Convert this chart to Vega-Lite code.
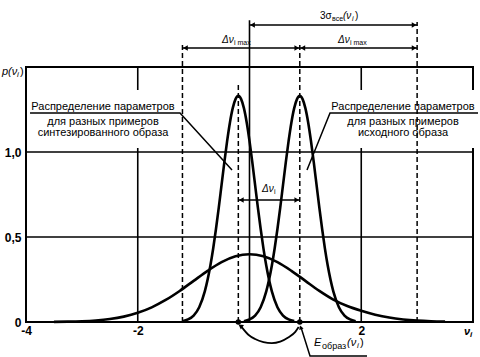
{
  "$schema": "https://vega.github.io/schema/vega-lite/v6.json",
  "width": 447,
  "height": 255,
  "autosize": {"type": "none"},
  "padding": {"left": 26, "top": 67, "right": 7, "bottom": 35},
  "background": "white",
  "config": {
    "view": {"stroke": "black", "strokeWidth": 2},
    "font": "Liberation Sans",
    "text": {"font": "Liberation Sans", "color": "black", "baseline": "middle", "align": "left"}
  },
  "encoding": {
    "x": {"field": "x", "type": "quantitative", "scale": {"domain": [-4, 4], "nice": false, "zero": false},
      "axis": {"values": [-4, -2, 2], "labelExpr": "datum.value < 0 ? '-' + abs(datum.value) : '' + datum.value", "ticks": false, "domain": false, "grid": false, "title": null, "labelFontSize": 12, "labelColor": "black", "labelPadding": 3, "labelFlush": false, "labelOverlap": false, "labelFont": "Liberation Sans", "labelFontWeight": "bold"}},
    "y": {"field": "y", "type": "quantitative", "scale": {"domain": [0, 1.5], "nice": false, "zero": false},
      "axis": {"values": [0, 0.5, 1], "labelExpr": "datum.value == 0 ? '0' : replace(format(datum.value, '.1f'), '.', ',')", "ticks": false, "domain": false, "grid": false, "title": null, "labelFontSize": 12, "labelColor": "black", "labelPadding": 5, "labelFlush": false, "labelOverlap": false, "labelFont": "Liberation Sans", "labelFontWeight": "bold"}}
  },
  "layer": [
    {
      "data": {"values": [{"x": -4, "x2": 4, "y": 0.5}, {"x": -4, "x2": 4, "y": 1.0}]},
      "mark": {"type": "rule", "color": "black", "strokeWidth": 1.6},
      "encoding": {"x2": {"field": "x2"}}
    },
    {
      "data": {"values": [{"x": -2, "y": 0, "y2": 1.5}, {"x": 2, "y": 0, "y2": 1.5}]},
      "mark": {"type": "rule", "color": "black", "strokeWidth": 1.6},
      "encoding": {"y2": {"field": "y2"}}
    },
    {
      "data": {"values": [{"x": -3.964, "x2": -1.28, "y": 1.365, "y2": 1.024}, {"x": 1.369, "x2": 4.2, "y": 1.365, "y2": 1.024}]},
      "mark": {"type": "rect", "color": "white"},
      "encoding": {"x2": {"field": "x2"}, "y2": {"field": "y2"}}
    },
    {
      "data": {"values": [{"x": 0, "y": 0, "y2": 1.775}]},
      "mark": {"type": "rule", "color": "black", "strokeWidth": 1.6},
      "encoding": {"y2": {"field": "y2"}}
    },
    {
      "data": {"values": [{"x": -1.2, "y": 0, "y2": 1.641}, {"x": 0.9, "y": 0, "y2": 1.641}, {"x": 3, "y": 0, "y2": 1.765}, {"x": -0.2, "y": 0, "y2": 1.394}]},
      "mark": {"type": "rule", "color": "black", "strokeWidth": 1.5, "strokeDash": [5, 3]},
      "encoding": {"y2": {"field": "y2"}}
    },
    {
      "data": {"values": [{"x": 0, "x2": 3, "y": 1.747}, {"x": -1.2, "x2": 0.9, "y": 1.612}, {"x": 0.9, "x2": 3, "y": 1.612}, {"x": -0.2, "x2": 0.9, "y": 0.718}]},
      "mark": {"type": "rule", "color": "black", "strokeWidth": 1.5},
      "encoding": {"x2": {"field": "x2"}}
    },
    {
      "data": {"values": [{"x": 0, "y": 1.747}, {"x": -1.2, "y": 1.612}, {"x": 0.9, "y": 1.612}, {"x": -0.2, "y": 0.718}]},
      "mark": {"type": "point", "shape": "triangle-left", "filled": true, "color": "black", "size": 30, "opacity": 1, "xOffset": 3}
    },
    {
      "data": {"values": [{"x": 3, "y": 1.747}, {"x": 0.9, "y": 1.612}, {"x": 3, "y": 1.612}, {"x": 0.9, "y": 0.718}]},
      "mark": {"type": "point", "shape": "triangle-right", "filled": true, "color": "black", "size": 30, "opacity": 1, "xOffset": -3}
    },
    {
      "data": {"values": [
        {"s": "wide", "x": -3.5, "y": 0.0009}, {"s": "wide", "x": -3.25, "y": 0.002}, {"s": "wide", "x": -3.0, "y": 0.0044}, {"s": "wide", "x": -2.75, "y": 0.0091}, {"s": "wide", "x": -2.5, "y": 0.0175}, {"s": "wide", "x": -2.25, "y": 0.0317}, {"s": "wide", "x": -2.0, "y": 0.054}, {"s": "wide", "x": -1.75, "y": 0.0863}, {"s": "wide", "x": -1.5, "y": 0.1295}, {"s": "wide", "x": -1.25, "y": 0.1826}, {"s": "wide", "x": -1.0, "y": 0.242}, {"s": "wide", "x": -0.75, "y": 0.3011}, {"s": "wide", "x": -0.5, "y": 0.3521}, {"s": "wide", "x": -0.25, "y": 0.3867}, {"s": "wide", "x": 0, "y": 0.3989}, {"s": "wide", "x": 0.25, "y": 0.3867}, {"s": "wide", "x": 0.5, "y": 0.3521}, {"s": "wide", "x": 0.75, "y": 0.3011}, {"s": "wide", "x": 1.0, "y": 0.242}, {"s": "wide", "x": 1.25, "y": 0.183}, {"s": "wide", "x": 1.5, "y": 0.132}, {"s": "wide", "x": 1.75, "y": 0.094}, {"s": "wide", "x": 2.0, "y": 0.066}, {"s": "wide", "x": 2.25, "y": 0.043}, {"s": "wide", "x": 2.5, "y": 0.026}, {"s": "wide", "x": 2.75, "y": 0.015}, {"s": "wide", "x": 3.0, "y": 0.008}, {"s": "wide", "x": 3.25, "y": 0.004}, {"s": "wide", "x": 3.5, "y": 0.002},
        {"s": "synth", "x": -1.2, "y": 0.005}, {"s": "synth", "x": -1.1, "y": 0.015}, {"s": "synth", "x": -1.0, "y": 0.038}, {"s": "synth", "x": -0.9, "y": 0.087}, {"s": "synth", "x": -0.8, "y": 0.18}, {"s": "synth", "x": -0.7, "y": 0.332}, {"s": "synth", "x": -0.65, "y": 0.432}, {"s": "synth", "x": -0.6, "y": 0.547}, {"s": "synth", "x": -0.55, "y": 0.673}, {"s": "synth", "x": -0.5, "y": 0.807}, {"s": "synth", "x": -0.45, "y": 0.94}, {"s": "synth", "x": -0.4, "y": 1.065}, {"s": "synth", "x": -0.35, "y": 1.174}, {"s": "synth", "x": -0.3, "y": 1.258}, {"s": "synth", "x": -0.25, "y": 1.311}, {"s": "synth", "x": -0.2, "y": 1.33}, {"s": "synth", "x": -0.15, "y": 1.311}, {"s": "synth", "x": -0.1, "y": 1.258}, {"s": "synth", "x": -0.05, "y": 1.174}, {"s": "synth", "x": 0, "y": 1.065}, {"s": "synth", "x": 0.05, "y": 0.94}, {"s": "synth", "x": 0.1, "y": 0.807}, {"s": "synth", "x": 0.15, "y": 0.673}, {"s": "synth", "x": 0.2, "y": 0.547}, {"s": "synth", "x": 0.25, "y": 0.432}, {"s": "synth", "x": 0.3, "y": 0.332}, {"s": "synth", "x": 0.4, "y": 0.18}, {"s": "synth", "x": 0.5, "y": 0.087}, {"s": "synth", "x": 0.6, "y": 0.038}, {"s": "synth", "x": 0.7, "y": 0.015}, {"s": "synth", "x": 0.8, "y": 0.005},
        {"s": "orig", "x": -0.1, "y": 0.005}, {"s": "orig", "x": 0, "y": 0.015}, {"s": "orig", "x": 0.1, "y": 0.038}, {"s": "orig", "x": 0.2, "y": 0.087}, {"s": "orig", "x": 0.3, "y": 0.18}, {"s": "orig", "x": 0.4, "y": 0.332}, {"s": "orig", "x": 0.45, "y": 0.432}, {"s": "orig", "x": 0.5, "y": 0.547}, {"s": "orig", "x": 0.55, "y": 0.673}, {"s": "orig", "x": 0.6, "y": 0.807}, {"s": "orig", "x": 0.65, "y": 0.94}, {"s": "orig", "x": 0.7, "y": 1.065}, {"s": "orig", "x": 0.75, "y": 1.174}, {"s": "orig", "x": 0.8, "y": 1.258}, {"s": "orig", "x": 0.85, "y": 1.311}, {"s": "orig", "x": 0.9, "y": 1.33}, {"s": "orig", "x": 0.95, "y": 1.311}, {"s": "orig", "x": 1.0, "y": 1.258}, {"s": "orig", "x": 1.05, "y": 1.174}, {"s": "orig", "x": 1.1, "y": 1.065}, {"s": "orig", "x": 1.15, "y": 0.94}, {"s": "orig", "x": 1.2, "y": 0.807}, {"s": "orig", "x": 1.25, "y": 0.673}, {"s": "orig", "x": 1.3, "y": 0.547}, {"s": "orig", "x": 1.35, "y": 0.432}, {"s": "orig", "x": 1.4, "y": 0.332}, {"s": "orig", "x": 1.5, "y": 0.18}, {"s": "orig", "x": 1.6, "y": 0.087}, {"s": "orig", "x": 1.7, "y": 0.038}, {"s": "orig", "x": 1.8, "y": 0.015}, {"s": "orig", "x": 1.9, "y": 0.005}
      ]},
      "mark": {"type": "line", "color": "black", "strokeWidth": 2.6, "interpolate": "monotone"},
      "encoding": {"detail": {"field": "s"}}
    },
    {
      "data": {"values": [
        {"s": "L", "x": -3.928, "y": 1.229}, {"s": "L", "x": -1.244, "y": 1.229}, {"s": "L", "x": -0.313, "y": 0.894},
        {"s": "R", "x": 1.029, "y": 0.894}, {"s": "R", "x": 1.441, "y": 1.229}, {"s": "R", "x": 4.09, "y": 1.229},
        {"s": "E", "x": 0.92, "y": -0.03}, {"s": "E", "x": 1.083, "y": -0.2}, {"s": "E", "x": 2.103, "y": -0.2}
      ]},
      "mark": {"type": "line", "color": "black", "strokeWidth": 1.5},
      "encoding": {"detail": {"field": "s"}}
    },
    {
      "data": {"values": [
        {"x": -0.14, "y": -0.03}, {"x": -0.02, "y": -0.075}, {"x": 0.1, "y": -0.1}, {"x": 0.25, "y": -0.118}, {"x": 0.4, "y": -0.124}, {"x": 0.55, "y": -0.115}, {"x": 0.7, "y": -0.09}, {"x": 0.82, "y": -0.058}, {"x": 0.88, "y": -0.03}
      ]},
      "mark": {"type": "line", "color": "black", "strokeWidth": 1.8, "interpolate": "monotone"}
    },
    {
      "data": {"values": [{"x": -0.15, "y": -0.025}]},
      "mark": {"type": "point", "shape": "triangle", "filled": true, "color": "black", "size": 30, "opacity": 1, "angle": -55}
    },
    {
      "data": {"values": [{"x": 0.92, "y": -0.035}]},
      "mark": {"type": "point", "shape": "triangle", "filled": true, "color": "black", "size": 22, "opacity": 1, "angle": -20}
    },
    {
      "data": {"values": [{"x": -0.2, "y": 0}, {"x": 0.9, "y": 0}]},
      "mark": {"type": "point", "shape": "circle", "filled": true, "color": "black", "size": 30, "opacity": 1}
    },
    {
      "data": {"values": [
        {"x": -2.622, "y": 1.265, "t": "Распределение параметров"}, {"x": -2.622, "y": 1.176, "t": "для разных примеров"}, {"x": -2.622, "y": 1.112, "t": "синтезированного образа"},
        {"x": 2.747, "y": 1.265, "t": "Распределение параметров"}, {"x": 2.747, "y": 1.176, "t": "для разных примеров"}, {"x": 2.747, "y": 1.112, "t": "исходного образа"}
      ]},
      "mark": {"type": "text", "align": "center", "fontSize": 11},
      "encoding": {"text": {"field": "t"}}
    },
    {
      "data": {"values": [{"x": 1.262, "y": 1.8, "t": "3σ"}]},
      "mark": {"type": "text", "fontSize": 10},
      "encoding": {"text": {"field": "t"}}
    },
    {
      "data": {"values": [{"x": 1.262, "y": 1.8, "t": "все"}]},
      "mark": {"type": "text", "fontSize": 7, "dx": 12, "dy": 3},
      "encoding": {"text": {"field": "t"}}
    },
    {
      "data": {"values": [{"x": 1.262, "y": 1.8, "t": "(ν"}]},
      "mark": {"type": "text", "fontSize": 10, "fontStyle": "italic", "dx": 23},
      "encoding": {"text": {"field": "t"}}
    },
    {
      "data": {"values": [{"x": 1.262, "y": 1.8, "t": "i"}]},
      "mark": {"type": "text", "fontSize": 7, "fontStyle": "italic", "dx": 32, "dy": 3},
      "encoding": {"text": {"field": "t"}}
    },
    {
      "data": {"values": [{"x": 1.262, "y": 1.8, "t": ")"}]},
      "mark": {"type": "text", "fontSize": 10, "dx": 35},
      "encoding": {"text": {"field": "t"}}
    },
    {
      "data": {"values": [{"x": -0.492, "y": 1.659, "t": "Δν"}, {"x": 1.584, "y": 1.659, "t": "Δν"}, {"x": 0.224, "y": 0.782, "t": "Δν"}]},
      "mark": {"type": "text", "fontSize": 10, "fontStyle": "italic"},
      "encoding": {"text": {"field": "t"}}
    },
    {
      "data": {"values": [{"x": -0.492, "y": 1.659, "t": "i max"}, {"x": 1.584, "y": 1.659, "t": "i max"}, {"x": 0.224, "y": 0.782, "t": "i"}]},
      "mark": {"type": "text", "fontSize": 7, "dx": 12, "dy": 3},
      "encoding": {"text": {"field": "t"}}
    },
    {
      "data": {"values": [{"x": 1.154, "y": -0.124, "t": "E"}]},
      "mark": {"type": "text", "fontSize": 11, "fontStyle": "italic"},
      "encoding": {"text": {"field": "t"}}
    },
    {
      "data": {"values": [{"x": 1.154, "y": -0.124, "t": "образ"}]},
      "mark": {"type": "text", "fontSize": 9, "dx": 8, "dy": 3},
      "encoding": {"text": {"field": "t"}}
    },
    {
      "data": {"values": [{"x": 1.154, "y": -0.124, "t": "(ν"}]},
      "mark": {"type": "text", "fontSize": 11, "fontStyle": "italic", "dx": 33},
      "encoding": {"text": {"field": "t"}}
    },
    {
      "data": {"values": [{"x": 1.154, "y": -0.124, "t": "i"}]},
      "mark": {"type": "text", "fontSize": 8, "fontStyle": "italic", "dx": 43, "dy": 3},
      "encoding": {"text": {"field": "t"}}
    },
    {
      "data": {"values": [{"x": 1.154, "y": -0.124, "t": ")"}]},
      "mark": {"type": "text", "fontSize": 11, "dx": 46},
      "encoding": {"text": {"field": "t"}}
    },
    {
      "data": {"values": [{"x": -4.43, "y": 1.47, "t": "p(ν"}]},
      "mark": {"type": "text", "fontSize": 11, "fontStyle": "italic"},
      "encoding": {"text": {"field": "t"}}
    },
    {
      "data": {"values": [{"x": -4.43, "y": 1.47, "t": "i"}]},
      "mark": {"type": "text", "fontSize": 8, "fontStyle": "italic", "dx": 15, "dy": 3},
      "encoding": {"text": {"field": "t"}}
    },
    {
      "data": {"values": [{"x": -4.43, "y": 1.47, "t": ")"}]},
      "mark": {"type": "text", "fontSize": 11, "dx": 18},
      "encoding": {"text": {"field": "t"}}
    },
    {
      "data": {"values": [{"x": 3.839, "y": -0.059, "t": "ν"}]},
      "mark": {"type": "text", "fontSize": 11, "fontStyle": "italic", "fontWeight": "bold"},
      "encoding": {"text": {"field": "t"}}
    },
    {
      "data": {"values": [{"x": 3.839, "y": -0.059, "t": "i"}]},
      "mark": {"type": "text", "fontSize": 8, "fontStyle": "italic", "fontWeight": "bold", "dx": 6, "dy": 3},
      "encoding": {"text": {"field": "t"}}
    }
  ]
}
